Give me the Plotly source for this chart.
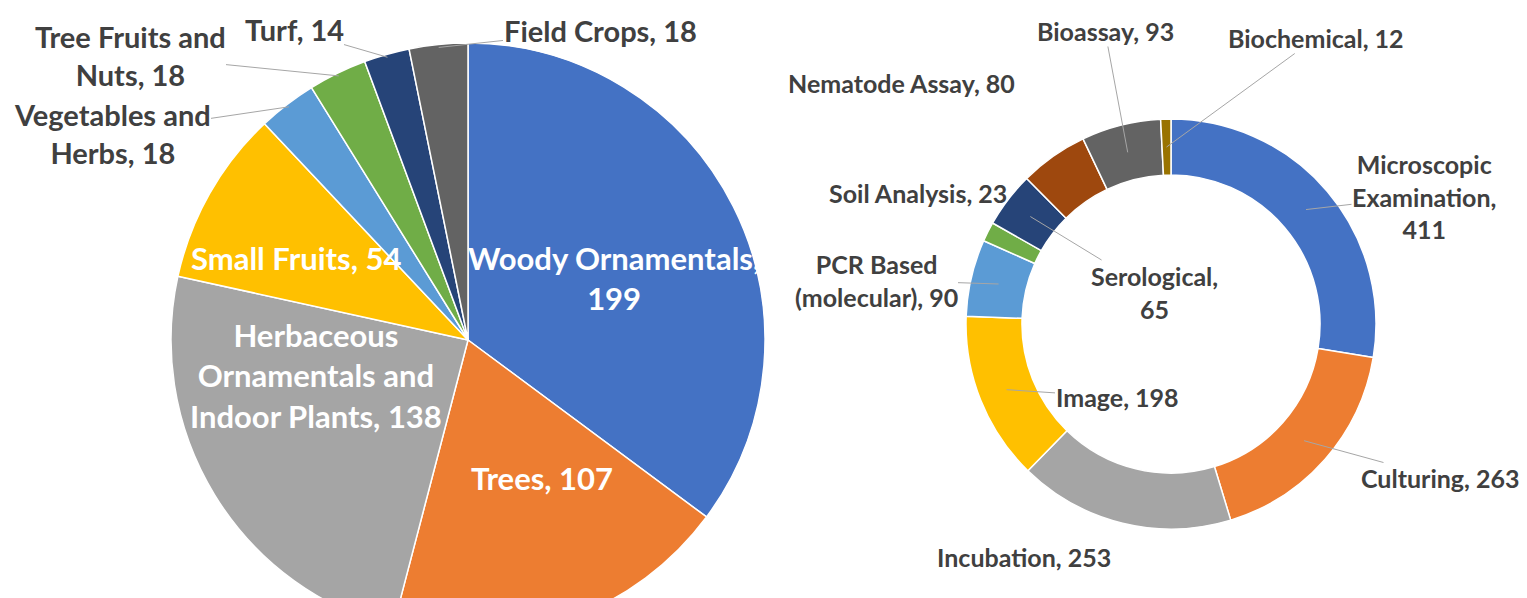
import math
import plotly.graph_objects as go

# ---- data: left pie (crop groups) ----
crop_labels = ["Woody Ornamentals", "Trees", "Herbaceous Ornamentals and Indoor Plants",
               "Small Fruits", "Vegetables and Herbs", "Tree Fruits and Nuts", "Turf", "Field Crops"]
crop_values = [199, 107, 138, 54, 18, 18, 14, 18]
crop_colors = ["#4472C4", "#ED7D31", "#A5A5A5", "#FFC000", "#5B9BD5", "#70AD47", "#264478", "#636363"]
crop_text = ["Woody Ornamentals,<br>199", "Trees, 107", "Herbaceous<br>Ornamentals and<br>Indoor Plants, 138",
             "Small Fruits, 54", "Vegetables and<br>Herbs, 18", "Tree Fruits and<br>Nuts, 18", "Turf, 14",
             "Field Crops, 18"]

# ---- data: right donut (diagnostic methods) ----
method_labels = ["Microscopic Examination", "Culturing", "Incubation", "Image", "PCR Based (molecular)",
                 "Soil Analysis", "Serological", "Nematode Assay", "Bioassay", "Biochemical"]
method_values = [411, 263, 253, 198, 90, 23, 65, 80, 93, 12]
method_colors = ["#4472C4", "#ED7D31", "#A5A5A5", "#FFC000", "#5B9BD5", "#70AD47", "#264478",
                 "#9E480E", "#636363", "#997300"]
method_text = ["Microscopic<br>Examination,<br>411", "Culturing, 263", "Incubation, 253", "Image, 198",
               "PCR Based<br>(molecular), 90", "Soil Analysis, 23", "Serological,<br>65",
               "Nematode Assay, 80", "Bioassay, 93", "Biochemical, 12"]

# ---- page / figure geometry ----
PAGE_MARGIN = 8          # default body margin of the html page
WF, HF = 1527, 640       # figure size (bottom of the left pie runs past the window, as in the reference)

# geometry in window pixels
L_CX, L_CY, L_R = 468, 340, 297
R_CX, R_CY, R_R, HOLE = 1171, 324, 205, 0.727

# label placement (window pixels) and leader flags
crop_label_pos = [(614, 278), (542, 478), (316, 375), (296, 258), (112, 133), (130, 55), (294, 30), (600, 30)]
crop_leader = [False, False, False, False, True, True, True, True]
crop_inside = [True, True, True, True, False, False, False, False]

method_label_pos = [(1424, 196), (1440, 478), (1024, 557), (1117, 397), (876, 280),
                    (918, 193), (1154, 292), (902, 83), (1105, 31), (1316, 38)]
method_leader = [True, True, False, True, True, False, True, False, True, True]


def fx(X):
    return X - PAGE_MARGIN


def fy(Y):
    return Y - PAGE_MARGIN


def domain(cx, cy, r):
    cx, cy = fx(cx), fy(cy)
    return dict(x=[(cx - r) / WF, (cx + r) / WF], y=[(HF - cy - r) / HF, (HF - cy + r) / HF])


def slice_points(values, cx, cy, r):
    total = sum(values)
    pts, cum = [], 0
    for v in values:
        th = 2 * math.pi * (cum + v / 2) / total
        pts.append((cx + r * math.sin(th), cy - r * math.cos(th)))
        cum += v
    return pts


def label(txt, pos, pt, lead, font):
    lx, ly = fx(pos[0]), fy(pos[1])
    if lead:
        px, py = fx(pt[0]), fy(pt[1])
        return dict(x=px / WF, y=1 - py / HF, xref="paper", yref="paper", ax=lx - px, ay=ly - py,
                    axref="pixel", ayref="pixel", text="<b>%s</b>" % txt, showarrow=True, arrowhead=0,
                    arrowwidth=1, arrowcolor="#A6A6A6", standoff=0, font=font, borderpad=0,
                    xanchor="center", yanchor="middle")
    return dict(x=lx / WF, y=1 - ly / HF, xref="paper", yref="paper", text="<b>%s</b>" % txt,
                showarrow=False, font=font, xanchor="center", yanchor="middle", borderpad=0)


fig = go.Figure()
fig.add_trace(go.Pie(values=crop_values, labels=crop_labels,
                     marker=dict(colors=crop_colors, line=dict(color="white", width=1.5)),
                     sort=False, direction="clockwise", textinfo="none",
                     domain=domain(L_CX, L_CY, L_R), showlegend=False))
fig.add_trace(go.Pie(values=method_values, labels=method_labels, hole=HOLE,
                     marker=dict(colors=method_colors, line=dict(color="white", width=1.5)),
                     sort=False, direction="clockwise", textinfo="none",
                     domain=domain(R_CX, R_CY, R_R), showlegend=False))

FONT = "Lato, Carlito, Calibri, sans-serif"
ann = []
crop_pts = slice_points(crop_values, L_CX, L_CY, L_R * 0.99)
for txt, pos, lead, inside, pt in zip(crop_text, crop_label_pos, crop_leader, crop_inside, crop_pts):
    font = dict(family=FONT, size=31 if inside else 29, color="white" if inside else "#404040")
    ann.append(label(txt, pos, pt, lead, font))

method_pts = slice_points(method_values, R_CX, R_CY, R_R * (1 + HOLE) / 2)
for txt, pos, lead, pt in zip(method_text, method_label_pos, method_leader, method_pts):
    ann.append(label(txt, pos, pt, lead, dict(family=FONT, size=25, color="#404040")))

fig.update_layout(width=WF, height=HF, margin=dict(l=0, r=0, t=0, b=0), paper_bgcolor="white",
                  plot_bgcolor="white", annotations=ann)
fig.write_html("out.html")
